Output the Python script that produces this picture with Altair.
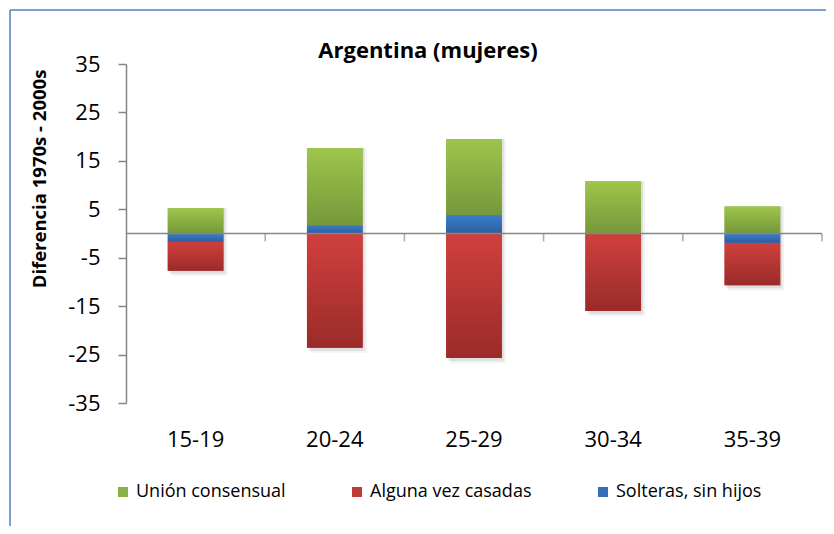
import altair as alt
import pandas as pd

ages = ["15-19", "20-24", "25-29", "30-34", "35-39"]
union_consensual = [5.2, 15.9, 15.7, 10.8, 5.6]
alguna_vez_casadas = [-6.0, -23.6, -25.7, -16.0, -8.8]
solteras_sin_hijos = [-1.7, 1.7, 3.8, 0.0, -1.9]
series_names = ["Unión consensual", "Alguna vez casadas", "Solteras, sin hijos"]
stack_order = [1, 2, 0]
solid_colors = ["#8AB344", "#C03A37", "#356FB8"]
grad_top = ["#9DC64B", "#D0403D", "#3B80CC"]
grad_bottom = ["#75983A", "#9A2B29", "#2D5C9C"]
y_ticks = [-35, -25, -15, -5, 5, 15, 25, 35]

FONT = "Open Sans"
GRAY = "#868686"
PAD_INNER = 0.6
PAD_OUTER = 0.3
PLOT_W = 696
STEP = PLOT_W / (len(ages) - PAD_INNER + 2 * PAD_OUTER)

rows = []
for name, vals, o in zip(series_names,
                         [union_consensual, alguna_vez_casadas, solteras_sin_hijos],
                         stack_order):
    for a, v in zip(ages, vals):
        rows.append({"age": a, "series": name, "value": v, "order": o})
df = pd.DataFrame(rows)
df_ages = pd.DataFrame({"age": ages})


def grad(top, bottom):
    return {"gradient": "linear", "x1": 0, "y1": 0, "x2": 0, "y2": 1,
            "stops": [{"offset": 0, "color": top}, {"offset": 1, "color": bottom}]}


x_scale = alt.Scale(domain=ages, paddingInner=PAD_INNER, paddingOuter=PAD_OUTER)
y_scale = alt.Scale(domain=[-35, 35], nice=False, zero=False)

x_axis = alt.Axis(title=None, labelAngle=0, labelFont=FONT, labelFontSize=22,
                  labelColor="black", ticks=False, domain=False, labelPadding=26)
y_axis = alt.Axis(values=y_ticks, title="Diferencia 1970s - 2000s", grid=False,
                  labelExpr="datum.value + ''",
                  labelFont=FONT, labelFontSize=22, labelColor="black",
                  labelPadding=18, tickSize=8, tickColor=GRAY, tickWidth=1.5,
                  domainColor=GRAY, domainWidth=1.5,
                  titleFont=FONT, titleFontSize=18.5, titleFontWeight="bold",
                  titleColor="black", titleAngle=270, titleBaseline="middle",
                  titleX=-86.5, titleY=114.5)

X = alt.X("age:N", sort=ages, scale=x_scale, axis=x_axis)
Y = alt.Y("v0:Q", scale=y_scale, axis=y_axis)
Y2 = alt.Y2("v1:Q")

base = alt.Chart(df).transform_stack(
    stack="value", groupby=["age"], as_=["v0", "v1"],
    sort=[alt.SortField("order", order="ascending")], offset="zero"
)

shadow_base = base.transform_aggregate(
    lo="min(v1)", hi="max(v1)", groupby=["age"]
)
shadow_layers = [
    shadow_base.mark_bar(color="black", opacity=op, xOffset=dx, yOffset=dy).encode(
        x=X, y=alt.Y("lo:Q", scale=y_scale, axis=y_axis), y2=alt.Y2("hi:Q"))
    for op, dx, dy in [(0.05, 4, 5), (0.08, 2, 3)]
]

legend_layer = base.mark_bar().encode(
    x=X, y=Y, y2=Y2,
    color=alt.Color("series:N", scale=alt.Scale(domain=series_names, range=solid_colors),
                    legend=alt.Legend(orient="none", legendX=-12, legendY=419,
                                      direction="horizontal", columns=3, title=None,
                                      symbolType="square", symbolSize=100,
                                      symbolStrokeWidth=0, labelFont=FONT,
                                      labelFontSize=18, labelColor="black",
                                      labelOffset=4, columnPadding=62,
                                      labelLimit=400)),
)

grad_layers = []
for name, t, b in zip(series_names, grad_top, grad_bottom):
    grad_layers.append(
        base.transform_filter(alt.datum.series == name)
        .mark_bar(color=grad(t, b))
        .encode(x=X, y=Y, y2=Y2)
    )

zero_line = alt.Chart(pd.DataFrame({"z": [0]})).mark_rule(
    color=GRAY, strokeWidth=1.5
).encode(y=alt.YDatum(0, axis=y_axis))

cat_ticks = alt.Chart(df_ages).mark_tick(
    orient="vertical", size=8, thickness=1.5, yOffset=4, color=GRAY,
    xOffset=PAD_INNER * STEP / 2,
).encode(
    x=alt.X("age:N", sort=ages, scale=x_scale, axis=x_axis, bandPosition=1),
    y=alt.YDatum(0, axis=y_axis),
)

one = pd.DataFrame({"k": [0]})
border_left = alt.Chart(one).mark_rule(color="#4F81BD", strokeWidth=1.5).encode(
    x=alt.value(-116), y=alt.value(-54), y2=alt.value(480))
border_top = alt.Chart(one).mark_rule(color="#4F81BD", strokeWidth=1.5).encode(
    x=alt.value(-116), x2=alt.value(720), y=alt.value(-54))

chart = alt.layer(
    *shadow_layers, legend_layer, *grad_layers, zero_line, cat_ticks,
    border_left, border_top
).properties(
    width=PLOT_W, height=339,
    title=alt.Title("Argentina (mujeres)", font=FONT, fontSize=22, fontWeight="bold",
                    color="black", anchor="middle", frame="group", dx=-46,
                    offset=-53.5),
    autosize=alt.AutoSizeParams(type="none"),
    padding={"left": 118, "top": 56, "right": 4, "bottom": 123},
    background="white",
).configure_view(stroke=None)

chart.save("out.html", embed_options={"renderer": "svg", "actions": False})
